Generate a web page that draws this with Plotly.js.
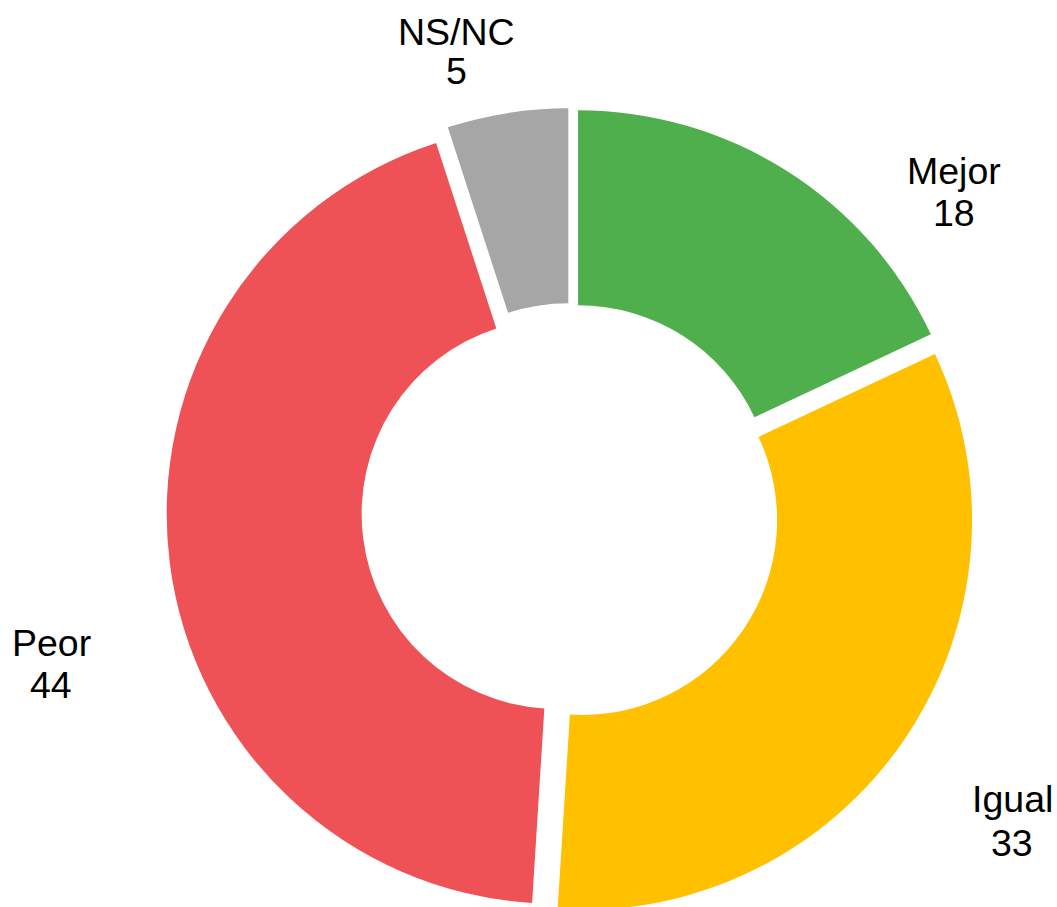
<!DOCTYPE html>
<html>
<head>
<meta charset="utf-8">
<script src="https://cdn.plot.ly/plotly-3.0.1.min.js"></script>
<style>
  html, body { margin: 0; padding: 0; overflow: hidden; background: #ffffff; }
  #chart { width: 1057px; height: 940px; }
</style>
</head>
<body>
<div id="chart"></div>
<script>
// ---- data ----
const categories = ["Mejor", "Igual", "Peor", "NS/NC"];
const values = [18, 33, 44, 5];
const colors = ["#4FAF4C", "#FFC000", "#EF5256", "#A6A6A6"];

// ---- label placement (pixels, layout styling) ----
const W = 1057, H = 940;
const labelX = [954, 1012, 51, 456];
const nameY  = [171, 799, 642.5, 31.5];
const valueY = [213, 843, 685, 71];

const annotations = [];
categories.forEach((c, i) => {
  annotations.push({
    xref: "paper", yref: "paper",
    x: labelX[i] / W, y: 1 - nameY[i] / H,
    xanchor: "center", yanchor: "middle",
    text: c, showarrow: false,
    font: { family: "Liberation Sans, Arial, sans-serif", size: 37.5, color: "#000000" }
  });
  annotations.push({
    xref: "paper", yref: "paper",
    x: labelX[i] / W, y: 1 - valueY[i] / H,
    xanchor: "center", yanchor: "middle",
    text: String(values[i]), showarrow: false,
    font: { family: "Liberation Sans, Arial, sans-serif", size: 37.5, color: "#000000" }
  });
});

const trace = {
  type: "pie",
  labels: categories,
  values: values,
  sort: false,
  direction: "clockwise",
  rotation: 0,
  hole: 0.5,
  pull: 0.036,
  marker: { colors: colors, line: { color: "#ffffff", width: 0 } },
  textinfo: "none",
  hoverinfo: "label+value",
  domain: { x: [0.1575, 0.922], y: [0.0255, 0.885] }
};

const layout = {
  width: W, height: H,
  margin: { l: 0, r: 0, t: 0, b: 0 },
  showlegend: false,
  paper_bgcolor: "#ffffff",
  plot_bgcolor: "#ffffff",
  annotations: annotations
};

Plotly.newPlot("chart", [trace], layout, { displayModeBar: false, staticPlot: true });
</script>
</body>
</html>
